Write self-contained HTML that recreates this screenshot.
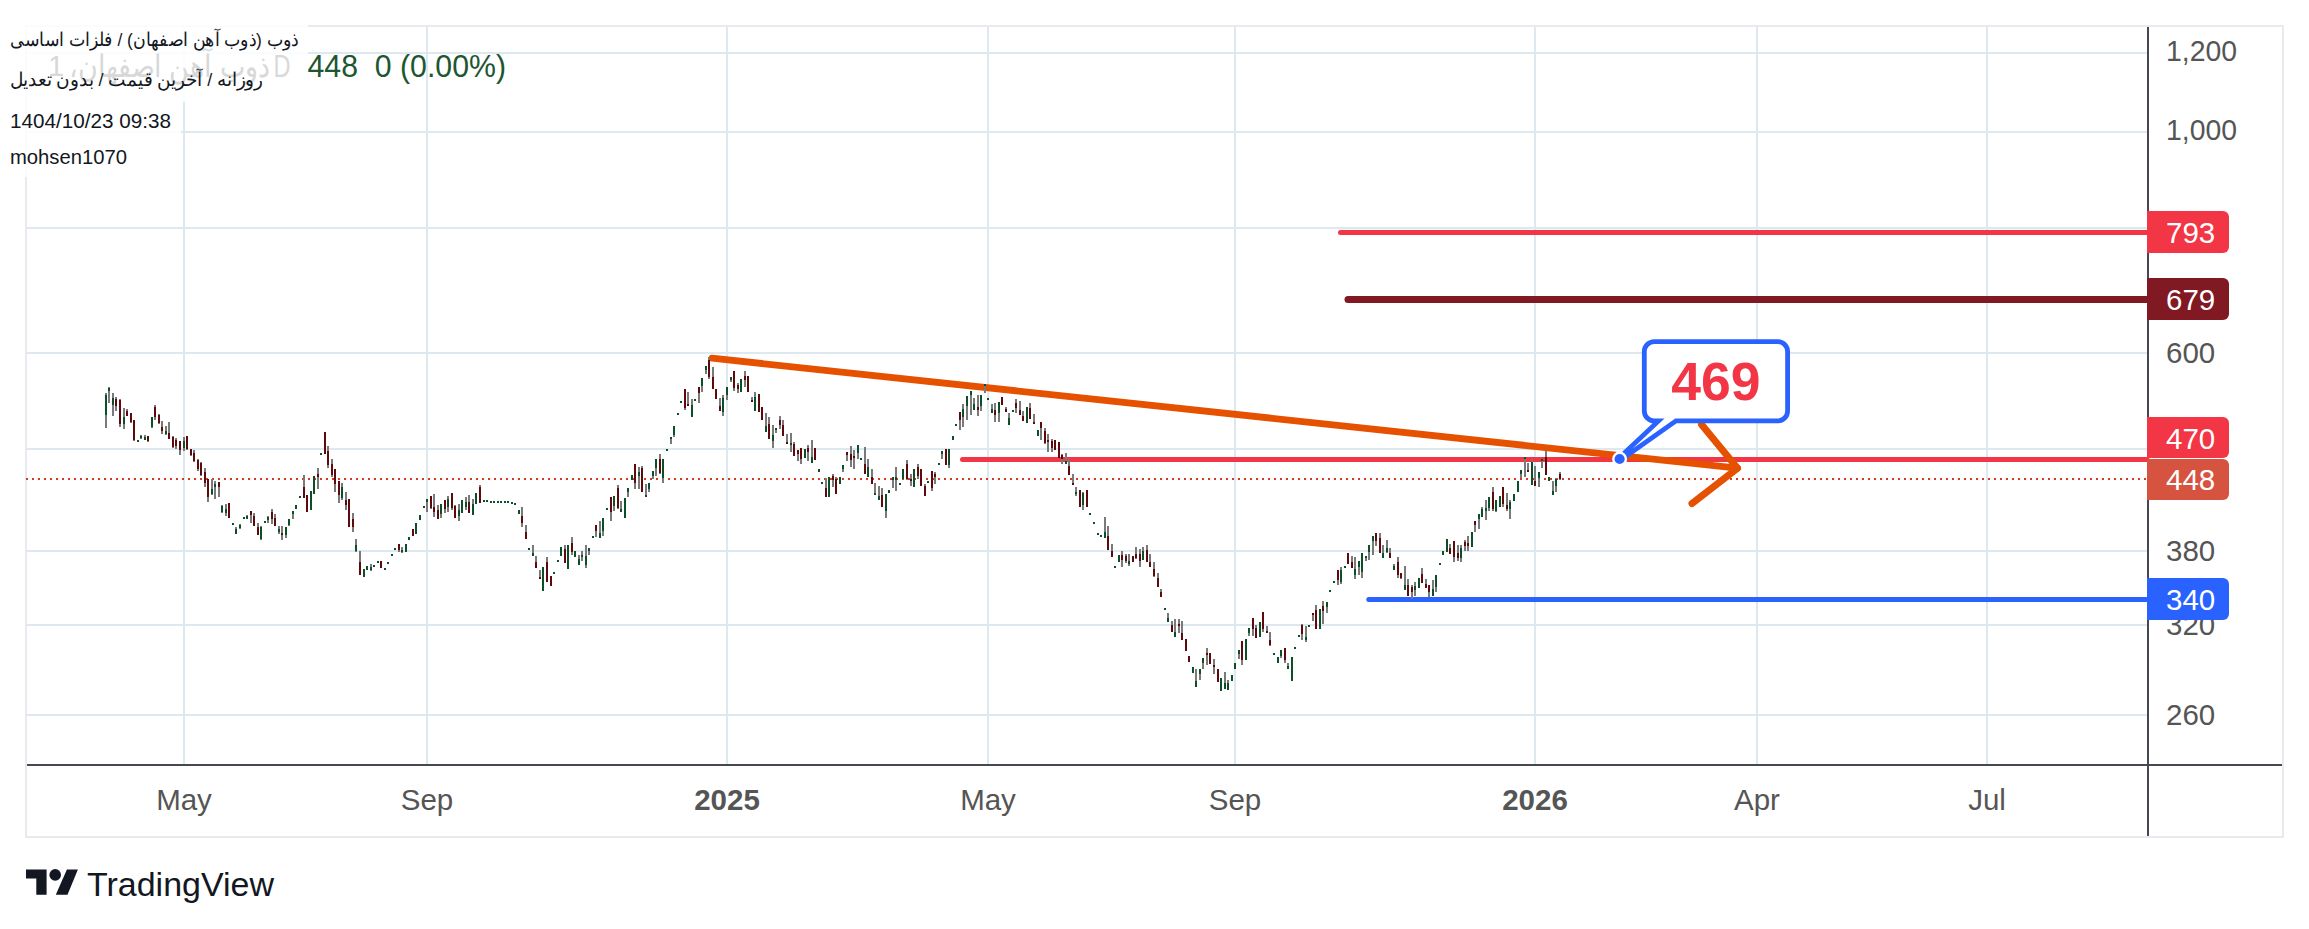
<!DOCTYPE html>
<html><head><meta charset="utf-8"><style>
html,body{margin:0;padding:0;background:#fff;width:2309px;height:929px;overflow:hidden}
svg{display:block}
</style></head><body>
<svg width="2309" height="929" viewBox="0 0 2309 929">
<rect x="183" y="27" width="2" height="737" fill="#DDE8EF"/>
<rect x="426" y="27" width="2" height="737" fill="#DDE8EF"/>
<rect x="726" y="27" width="2" height="737" fill="#DDE8EF"/>
<rect x="987" y="27" width="2" height="737" fill="#DDE8EF"/>
<rect x="1234" y="27" width="2" height="737" fill="#DDE8EF"/>
<rect x="1534" y="27" width="2" height="737" fill="#DDE8EF"/>
<rect x="1756" y="27" width="2" height="737" fill="#DDE8EF"/>
<rect x="1986" y="27" width="2" height="737" fill="#DDE8EF"/>
<rect x="27" y="52" width="2120" height="2" fill="#DDE8EF"/>
<rect x="27" y="131" width="2120" height="2" fill="#DDE8EF"/>
<rect x="27" y="227" width="2120" height="2" fill="#DDE8EF"/>
<rect x="27" y="352" width="2120" height="2" fill="#DDE8EF"/>
<rect x="27" y="448" width="2120" height="2" fill="#DDE8EF"/>
<rect x="27" y="550" width="2120" height="2" fill="#DDE8EF"/>
<rect x="27" y="624" width="2120" height="2" fill="#DDE8EF"/>
<rect x="27" y="714" width="2120" height="2" fill="#DDE8EF"/>
<rect x="25" y="25" width="2259" height="2" fill="#E8EAEF"/>
<rect x="25" y="836" width="2259" height="2" fill="#E8EAEF"/>
<rect x="25" y="25" width="2" height="813" fill="#E8EAEF"/>
<rect x="2282" y="25" width="2" height="813" fill="#E8EAEF"/>
<rect x="2147" y="27" width="2" height="809" fill="#464850"/>
<rect x="27" y="764" width="2255" height="2" fill="#464850"/>
<rect x="0" y="22" width="308" height="80" fill="#fff" fill-opacity="0.85"/>
<rect x="0" y="102" width="181" height="38" fill="#fff" fill-opacity="0.85"/>
<rect x="0" y="140" width="140" height="37" fill="#fff" fill-opacity="0.85"/>
<line x1="26" y1="479" x2="2147" y2="479" stroke="#D63A1E" stroke-width="2" stroke-dasharray="2 4"/>
<line x1="1340.5" y1="232.5" x2="2147" y2="232.5" stroke="#F23645" stroke-width="5" stroke-linecap="round"/>
<line x1="1348" y1="299.4" x2="2147" y2="299.4" stroke="#801922" stroke-width="7" stroke-linecap="round"/>
<line x1="962.5" y1="459.5" x2="2147" y2="459.5" stroke="#F23645" stroke-width="5" stroke-linecap="round"/>
<line x1="1368.8" y1="599.4" x2="2147" y2="599.4" stroke="#2962FF" stroke-width="5" stroke-linecap="round"/>
<line x1="712" y1="358.2" x2="1737.5" y2="468.2" stroke="#E65100" stroke-width="6.8" stroke-linecap="round"/>
<polyline points="1701.5,424.5 1737.5,468.2 1692,503.5" fill="none" stroke="#E65100" stroke-width="7" stroke-linecap="round" stroke-linejoin="round"/>
<path d="M1654.3 341.6H1777.6A10 10 0 0 1 1787.6 351.6V410.9A10 10 0 0 1 1777.6 420.9H1676L1620 458.5L1658.5 420.9H1654.3A10 10 0 0 1 1644.3 410.9V351.6A10 10 0 0 1 1654.3 341.6Z" fill="#fff"/>
<path d="M1618 459L1658.5 420.9H1654.3A10 10 0 0 1 1644.3 410.9V351.6A10 10 0 0 1 1654.3 341.6H1777.6A10 10 0 0 1 1787.6 351.6V410.9A10 10 0 0 1 1777.6 420.9H1676L1622 459" fill="none" stroke="#2962FF" stroke-width="4.8" stroke-linejoin="miter" stroke-miterlimit="10"/>
<circle cx="1619.6" cy="459" r="6.3" fill="#2962FF" stroke="#fff" stroke-width="2.4"/>
<text x="1716" y="400" text-anchor="middle" font-family="Liberation Sans" font-weight="bold" font-size="53.5" fill="#F23645">469</text>
<path d="M105 393h2v35h-2zM108 387h2v16h-2zM112 393h2v23h-2zM115 397h2v14h-2zM119 399h2v28h-2zM123 408h2v21h-2zM126 409h2v7h-2zM130 413h2v10h-2zM133 420h2v21h-2zM137 440h2v2h-2zM140 435h2v4h-2zM144 435h2v5h-2zM147 436h2v6h-2zM151 417h2v11h-2zM154 405h2v15h-2zM158 414h2v10h-2zM161 421h2v13h-2zM165 426h2v9h-2zM168 422h2v17h-2zM172 436h2v12h-2zM175 438h2v11h-2zM179 441h2v14h-2zM183 437h2v14h-2zM186 436h2v14h-2zM190 449h2v7h-2zM193 450h2v12h-2zM197 459h2v12h-2zM200 462h2v14h-2zM204 468h2v19h-2zM207 479h2v23h-2zM211 479h2v16h-2zM214 481h2v18h-2zM218 482h2v15h-2zM221 505h2v8h-2zM225 504h2v12h-2zM228 503h2v15h-2zM232 523h2v2h-2zM235 527h2v7h-2zM239 524h2v5h-2zM243 517h2v2h-2zM246 515h2v4h-2zM250 511h2v12h-2zM253 513h2v13h-2zM257 523h2v12h-2zM260 526h2v14h-2zM264 521h2v2h-2zM267 516h2v7h-2zM271 509h2v15h-2zM274 514h2v12h-2zM278 526h2v8h-2zM281 526h2v14h-2zM285 527h2v11h-2zM288 519h2v7h-2zM292 511h2v8h-2zM295 505h2v4h-2zM299 496h2v2h-2zM303 475h2v23h-2zM306 495h2v17h-2zM310 491h2v19h-2zM313 476h2v18h-2zM317 468h2v21h-2zM320 453h2v2h-2zM324 432h2v22h-2zM327 446h2v22h-2zM331 459h2v18h-2zM334 469h2v23h-2zM338 481h2v22h-2zM341 483h2v17h-2zM345 492h2v18h-2zM348 499h2v28h-2zM352 513h2v19h-2zM355 539h2v13h-2zM359 551h2v24h-2zM363 569h2v8h-2zM366 566h2v4h-2zM370 564h2v7h-2zM373 565h2v2h-2zM377 561h2v2h-2zM380 561h2v7h-2zM384 568h2v2h-2zM387 562h2v2h-2zM391 554h2v2h-2zM394 548h2v2h-2zM398 544h2v8h-2zM401 547h2v6h-2zM405 544h2v8h-2zM408 537h2v3h-2zM412 529h2v7h-2zM415 523h2v11h-2zM419 515h2v5h-2zM423 506h2v2h-2zM426 499h2v13h-2zM430 496h2v13h-2zM433 494h2v23h-2zM437 505h2v14h-2zM440 504h2v14h-2zM444 500h2v13h-2zM447 496h2v16h-2zM451 493h2v17h-2zM454 505h2v13h-2zM458 504h2v17h-2zM461 500h2v13h-2zM465 497h2v13h-2zM468 495h2v18h-2zM472 499h2v16h-2zM475 493h2v11h-2zM479 485h2v18h-2zM483 500h2v2h-2zM486 500h2v2h-2zM490 501h2v2h-2zM493 501h2v2h-2zM497 501h2v2h-2zM500 501h2v2h-2zM504 501h2v2h-2zM507 501h2v2h-2zM511 502h2v2h-2zM514 503h2v2h-2zM518 510h2v4h-2zM521 507h2v20h-2zM525 525h2v14h-2zM528 548h2v2h-2zM532 545h2v11h-2zM535 556h2v12h-2zM539 570h2v9h-2zM542 567h2v24h-2zM546 557h2v25h-2zM550 576h2v10h-2zM553 572h2v2h-2zM557 560h2v2h-2zM560 547h2v9h-2zM564 545h2v18h-2zM567 545h2v24h-2zM571 537h2v18h-2zM574 551h2v6h-2zM578 555h2v10h-2zM581 551h2v10h-2zM585 545h2v23h-2zM588 548h2v7h-2zM592 536h2v2h-2zM595 525h2v12h-2zM599 521h2v17h-2zM602 518h2v18h-2zM606 508h2v2h-2zM610 497h2v24h-2zM613 496h2v15h-2zM617 485h2v24h-2zM620 501h2v11h-2zM624 498h2v20h-2zM627 488h2v9h-2zM631 475h2v5h-2zM634 464h2v25h-2zM638 467h2v22h-2zM641 466h2v26h-2zM645 484h2v13h-2zM648 483h2v9h-2zM652 471h2v8h-2zM655 459h2v17h-2zM659 454h2v20h-2zM662 459h2v24h-2zM666 449h2v2h-2zM670 437h2v7h-2zM673 426h2v11h-2zM677 413h2v2h-2zM680 401h2v2h-2zM684 389h2v21h-2zM687 392h2v14h-2zM691 399h2v18h-2zM694 399h2v2h-2zM698 387h2v16h-2zM701 378h2v14h-2zM705 366h2v8h-2zM708 357h2v22h-2zM712 367h2v22h-2zM715 389h2v10h-2zM719 398h2v13h-2zM722 395h2v21h-2zM726 387h2v13h-2zM730 377h2v5h-2zM733 371h2v20h-2zM737 383h2v10h-2zM740 379h2v13h-2zM744 371h2v16h-2zM747 376h2v16h-2zM751 397h2v5h-2zM754 392h2v19h-2zM758 394h2v18h-2zM761 407h2v13h-2zM765 413h2v19h-2zM768 417h2v22h-2zM772 425h2v23h-2zM775 428h2v5h-2zM779 416h2v13h-2zM782 420h2v16h-2zM786 434h2v10h-2zM790 433h2v19h-2zM793 442h2v14h-2zM797 450h2v11h-2zM800 448h2v16h-2zM804 449h2v9h-2zM807 445h2v16h-2zM811 440h2v23h-2zM814 448h2v12h-2zM818 469h2v3h-2zM821 482h2v2h-2zM825 478h2v19h-2zM828 477h2v20h-2zM832 474h2v13h-2zM835 477h2v17h-2zM839 477h2v7h-2zM842 465h2v7h-2zM846 452h2v9h-2zM850 446h2v21h-2zM853 450h2v19h-2zM857 445h2v14h-2zM860 458h2v2h-2zM864 447h2v27h-2zM867 459h2v18h-2zM871 469h2v15h-2zM874 483h2v12h-2zM878 486h2v14h-2zM881 488h2v19h-2zM885 494h2v24h-2zM888 490h2v3h-2zM892 477h2v11h-2zM895 467h2v24h-2zM899 483h2v2h-2zM902 469h2v10h-2zM906 460h2v20h-2zM910 474h2v12h-2zM913 469h2v18h-2zM917 464h2v15h-2zM920 469h2v17h-2zM924 484h2v12h-2zM927 481h2v2h-2zM931 471h2v20h-2zM934 472h2v12h-2zM938 463h2v2h-2zM941 451h2v8h-2zM945 449h2v16h-2zM948 449h2v19h-2zM952 436h2v4h-2zM955 424h2v2h-2zM959 412h2v18h-2zM962 404h2v23h-2zM966 396h2v24h-2zM970 391h2v24h-2zM973 398h2v12h-2zM977 395h2v21h-2zM980 395h2v16h-2zM984 384h2v9h-2zM987 398h2v2h-2zM991 404h2v9h-2zM994 403h2v19h-2zM998 402h2v20h-2zM1001 397h2v8h-2zM1005 407h2v5h-2zM1008 413h2v12h-2zM1012 410h2v2h-2zM1015 399h2v14h-2zM1019 401h2v14h-2zM1022 411h2v10h-2zM1026 407h2v16h-2zM1029 403h2v16h-2zM1033 414h2v10h-2zM1037 430h2v6h-2zM1040 422h2v18h-2zM1044 428h2v16h-2zM1047 434h2v18h-2zM1051 439h2v13h-2zM1054 440h2v10h-2zM1058 442h2v16h-2zM1061 454h2v10h-2zM1065 453h2v11h-2zM1068 459h2v16h-2zM1072 474h2v11h-2zM1075 487h2v9h-2zM1079 490h2v17h-2zM1082 492h2v18h-2zM1086 490h2v17h-2zM1089 513h2v2h-2zM1093 522h2v2h-2zM1097 533h2v2h-2zM1100 535h2v2h-2zM1104 517h2v21h-2zM1107 526h2v24h-2zM1111 544h2v13h-2zM1114 566h2v2h-2zM1118 555h2v7h-2zM1121 551h2v16h-2zM1125 554h2v9h-2zM1128 554h2v12h-2zM1132 556h2v6h-2zM1135 547h2v12h-2zM1139 549h2v18h-2zM1142 547h2v13h-2zM1146 545h2v17h-2zM1149 554h2v13h-2zM1153 562h2v15h-2zM1157 573h2v14h-2zM1160 589h2v8h-2zM1164 608h2v2h-2zM1167 613h2v9h-2zM1171 621h2v11h-2zM1174 619h2v18h-2zM1178 619h2v14h-2zM1181 621h2v19h-2zM1185 639h2v12h-2zM1188 656h2v6h-2zM1192 667h2v6h-2zM1195 669h2v18h-2zM1199 669h2v11h-2zM1202 658h2v11h-2zM1206 648h2v17h-2zM1209 653h2v11h-2zM1213 659h2v15h-2zM1217 669h2v13h-2zM1220 678h2v13h-2zM1224 672h2v17h-2zM1227 680h2v10h-2zM1231 675h2v6h-2zM1234 663h2v6h-2zM1238 650h2v9h-2zM1241 641h2v24h-2zM1245 639h2v21h-2zM1248 628h2v8h-2zM1252 618h2v18h-2zM1255 625h2v13h-2zM1259 622h2v15h-2zM1262 612h2v20h-2zM1266 626h2v7h-2zM1269 632h2v14h-2zM1273 653h2v2h-2zM1277 657h2v6h-2zM1280 650h2v8h-2zM1284 648h2v15h-2zM1287 663h2v6h-2zM1291 657h2v24h-2zM1294 647h2v2h-2zM1298 635h2v2h-2zM1301 624h2v16h-2zM1305 626h2v16h-2zM1308 625h2v2h-2zM1312 613h2v8h-2zM1315 605h2v24h-2zM1319 609h2v20h-2zM1322 601h2v23h-2zM1326 602h2v11h-2zM1329 590h2v2h-2zM1333 581h2v2h-2zM1337 570h2v15h-2zM1340 567h2v17h-2zM1344 566h2v2h-2zM1347 553h2v11h-2zM1351 556h2v12h-2zM1354 557h2v22h-2zM1358 561h2v14h-2zM1361 553h2v25h-2zM1365 556h2v5h-2zM1368 545h2v15h-2zM1372 536h2v19h-2zM1375 533h2v13h-2zM1379 533h2v20h-2zM1382 545h2v13h-2zM1386 540h2v13h-2zM1389 548h2v10h-2zM1393 564h2v6h-2zM1397 557h2v21h-2zM1400 573h2v6h-2zM1404 566h2v24h-2zM1407 579h2v17h-2zM1411 585h2v14h-2zM1414 582h2v14h-2zM1418 578h2v10h-2zM1421 568h2v15h-2zM1425 579h2v9h-2zM1428 585h2v12h-2zM1432 580h2v16h-2zM1435 575h2v17h-2zM1439 563h2v2h-2zM1442 551h2v4h-2zM1446 539h2v13h-2zM1449 544h2v10h-2zM1453 541h2v21h-2zM1457 545h2v16h-2zM1460 545h2v17h-2zM1464 540h2v11h-2zM1467 536h2v15h-2zM1471 532h2v15h-2zM1474 521h2v11h-2zM1478 514h2v15h-2zM1481 507h2v10h-2zM1485 500h2v20h-2zM1488 497h2v14h-2zM1492 487h2v24h-2zM1495 500h2v12h-2zM1499 496h2v11h-2zM1502 487h2v20h-2zM1506 493h2v18h-2zM1509 500h2v19h-2zM1513 494h2v7h-2zM1517 481h2v11h-2zM1520 470h2v8h-2zM1524 457h2v20h-2zM1527 463h2v9h-2zM1531 459h2v26h-2zM1534 466h2v20h-2zM1538 472h2v15h-2zM1541 459h2v9h-2zM1545 451h2v24h-2zM1548 477h2v4h-2zM1552 481h2v14h-2zM1555 478h2v14h-2zM1559 472h2v8h-2z" fill="#7A7A7A"/>
<path d="M105 395h2v20h-2zM108 388h2v3h-2zM112 398h2v7h-2zM123 417h2v7h-2zM137 440h2v2h-2zM140 436h2v2h-2zM144 437h2v3h-2zM151 417h2v10h-2zM165 431h2v3h-2zM183 441h2v7h-2zM211 489h2v5h-2zM214 484h2v3h-2zM221 506h2v6h-2zM225 509h2v4h-2zM232 523h2v2h-2zM235 529h2v5h-2zM239 525h2v3h-2zM243 517h2v2h-2zM246 516h2v3h-2zM260 527h2v12h-2zM264 521h2v2h-2zM267 517h2v3h-2zM278 529h2v3h-2zM285 527h2v8h-2zM288 519h2v6h-2zM292 511h2v3h-2zM295 505h2v4h-2zM299 496h2v2h-2zM310 491h2v19h-2zM313 476h2v18h-2zM320 453h2v2h-2zM341 487h2v11h-2zM355 545h2v6h-2zM363 569h2v8h-2zM366 566h2v4h-2zM370 567h2v3h-2zM373 565h2v2h-2zM377 561h2v2h-2zM384 568h2v2h-2zM387 562h2v2h-2zM391 554h2v2h-2zM394 548h2v2h-2zM401 550h2v2h-2zM405 544h2v8h-2zM408 537h2v3h-2zM415 523h2v11h-2zM419 515h2v5h-2zM423 506h2v2h-2zM426 499h2v3h-2zM440 504h2v10h-2zM447 499h2v8h-2zM458 510h2v6h-2zM461 500h2v13h-2zM465 502h2v5h-2zM472 504h2v11h-2zM475 493h2v11h-2zM483 500h2v2h-2zM486 500h2v2h-2zM490 501h2v2h-2zM493 501h2v2h-2zM497 501h2v2h-2zM500 501h2v2h-2zM504 501h2v2h-2zM507 501h2v2h-2zM511 502h2v2h-2zM514 503h2v2h-2zM518 510h2v4h-2zM528 548h2v2h-2zM532 553h2v3h-2zM542 567h2v24h-2zM553 572h2v2h-2zM557 560h2v2h-2zM560 547h2v9h-2zM567 545h2v24h-2zM574 551h2v6h-2zM578 559h2v6h-2zM581 555h2v2h-2zM585 556h2v9h-2zM588 548h2v3h-2zM592 536h2v2h-2zM599 533h2v5h-2zM602 518h2v13h-2zM606 508h2v2h-2zM613 496h2v10h-2zM620 509h2v3h-2zM624 498h2v20h-2zM627 488h2v4h-2zM631 475h2v5h-2zM638 472h2v4h-2zM645 495h2v2h-2zM648 483h2v6h-2zM652 471h2v5h-2zM655 459h2v9h-2zM662 459h2v19h-2zM666 449h2v2h-2zM670 437h2v2h-2zM673 426h2v9h-2zM677 413h2v2h-2zM680 401h2v2h-2zM691 405h2v12h-2zM694 399h2v2h-2zM701 378h2v8h-2zM705 366h2v4h-2zM722 398h2v14h-2zM726 387h2v8h-2zM730 377h2v3h-2zM740 379h2v13h-2zM754 397h2v14h-2zM765 426h2v6h-2zM772 435h2v6h-2zM775 428h2v2h-2zM790 443h2v2h-2zM804 449h2v9h-2zM811 457h2v6h-2zM818 469h2v3h-2zM821 482h2v2h-2zM828 477h2v20h-2zM839 477h2v7h-2zM842 465h2v4h-2zM857 445h2v8h-2zM860 458h2v2h-2zM867 467h2v10h-2zM874 493h2v2h-2zM878 496h2v4h-2zM885 494h2v17h-2zM888 490h2v3h-2zM892 477h2v3h-2zM895 477h2v3h-2zM899 483h2v2h-2zM902 469h2v10h-2zM913 469h2v18h-2zM927 481h2v2h-2zM938 463h2v2h-2zM941 451h2v3h-2zM948 449h2v16h-2zM952 436h2v4h-2zM955 424h2v2h-2zM962 409h2v8h-2zM966 396h2v10h-2zM970 391h2v4h-2zM973 404h2v6h-2zM980 395h2v11h-2zM984 384h2v2h-2zM987 398h2v2h-2zM991 409h2v4h-2zM998 402h2v11h-2zM1008 418h2v7h-2zM1012 410h2v2h-2zM1026 407h2v16h-2zM1037 430h2v6h-2zM1065 461h2v3h-2zM1075 492h2v2h-2zM1082 493h2v12h-2zM1089 513h2v2h-2zM1093 522h2v2h-2zM1097 533h2v2h-2zM1100 535h2v2h-2zM1104 532h2v6h-2zM1114 566h2v2h-2zM1118 555h2v7h-2zM1128 561h2v3h-2zM1142 551h2v9h-2zM1164 608h2v2h-2zM1167 618h2v4h-2zM1174 632h2v5h-2zM1192 667h2v6h-2zM1195 681h2v6h-2zM1199 669h2v5h-2zM1202 658h2v5h-2zM1220 678h2v13h-2zM1224 683h2v6h-2zM1227 683h2v7h-2zM1231 675h2v6h-2zM1234 663h2v6h-2zM1238 650h2v4h-2zM1245 639h2v21h-2zM1248 628h2v5h-2zM1259 622h2v15h-2zM1273 653h2v2h-2zM1277 657h2v6h-2zM1280 650h2v6h-2zM1287 666h2v3h-2zM1291 657h2v24h-2zM1294 647h2v2h-2zM1298 635h2v2h-2zM1305 637h2v3h-2zM1308 625h2v2h-2zM1319 609h2v20h-2zM1326 602h2v5h-2zM1329 590h2v2h-2zM1333 581h2v2h-2zM1340 570h2v12h-2zM1344 566h2v2h-2zM1354 569h2v6h-2zM1358 561h2v6h-2zM1361 553h2v19h-2zM1365 556h2v2h-2zM1368 545h2v7h-2zM1372 536h2v5h-2zM1382 553h2v5h-2zM1386 548h2v4h-2zM1393 566h2v4h-2zM1404 585h2v5h-2zM1414 586h2v4h-2zM1418 578h2v10h-2zM1432 589h2v7h-2zM1435 575h2v12h-2zM1439 563h2v2h-2zM1442 551h2v4h-2zM1446 539h2v13h-2zM1460 548h2v10h-2zM1471 532h2v15h-2zM1478 514h2v5h-2zM1481 509h2v8h-2zM1485 508h2v3h-2zM1488 497h2v11h-2zM1495 500h2v11h-2zM1499 496h2v11h-2zM1509 502h2v7h-2zM1513 494h2v7h-2zM1517 481h2v11h-2zM1520 470h2v4h-2zM1524 457h2v2h-2zM1531 462h2v23h-2zM1538 472h2v6h-2zM1541 459h2v2h-2zM1548 477h2v4h-2zM1552 491h2v4h-2zM1555 479h2v7h-2z" fill="#0A4F27"/>
<path d="M115 399h2v7h-2zM119 400h2v24h-2zM126 411h2v5h-2zM130 413h2v9h-2zM133 420h2v20h-2zM147 436h2v5h-2zM154 407h2v10h-2zM158 415h2v8h-2zM161 427h2v4h-2zM168 433h2v6h-2zM172 437h2v10h-2zM175 440h2v6h-2zM179 441h2v9h-2zM186 436h2v13h-2zM190 449h2v6h-2zM193 453h2v8h-2zM197 460h2v9h-2zM200 463h2v12h-2zM204 472h2v11h-2zM207 479h2v18h-2zM218 482h2v5h-2zM228 503h2v15h-2zM250 511h2v4h-2zM253 516h2v10h-2zM257 527h2v8h-2zM271 512h2v7h-2zM274 518h2v8h-2zM281 533h2v2h-2zM303 487h2v11h-2zM306 495h2v17h-2zM317 474h2v3h-2zM324 432h2v22h-2zM327 451h2v14h-2zM331 464h2v11h-2zM334 469h2v15h-2zM338 481h2v14h-2zM345 500h2v5h-2zM348 499h2v28h-2zM352 519h2v8h-2zM359 562h2v13h-2zM380 561h2v7h-2zM398 544h2v6h-2zM412 529h2v7h-2zM430 496h2v12h-2zM433 507h2v5h-2zM437 510h2v9h-2zM444 500h2v9h-2zM451 493h2v15h-2zM454 506h2v12h-2zM468 502h2v11h-2zM479 487h2v16h-2zM521 516h2v7h-2zM525 532h2v7h-2zM535 562h2v6h-2zM539 577h2v2h-2zM546 562h2v20h-2zM550 576h2v10h-2zM564 549h2v14h-2zM571 543h2v9h-2zM595 525h2v6h-2zM610 497h2v15h-2zM617 488h2v20h-2zM634 464h2v19h-2zM641 468h2v24h-2zM659 459h2v14h-2zM684 389h2v19h-2zM687 404h2v2h-2zM698 387h2v6h-2zM708 360h2v17h-2zM712 377h2v12h-2zM715 389h2v10h-2zM719 406h2v5h-2zM733 371h2v17h-2zM737 385h2v4h-2zM744 376h2v4h-2zM747 376h2v16h-2zM751 400h2v2h-2zM758 394h2v18h-2zM761 407h2v13h-2zM768 424h2v15h-2zM779 420h2v5h-2zM782 425h2v11h-2zM786 442h2v2h-2zM793 444h2v12h-2zM797 450h2v4h-2zM800 448h2v11h-2zM807 448h2v4h-2zM814 448h2v12h-2zM825 488h2v9h-2zM832 476h2v4h-2zM835 479h2v15h-2zM846 452h2v3h-2zM850 454h2v6h-2zM853 456h2v2h-2zM864 464h2v10h-2zM871 477h2v7h-2zM881 495h2v12h-2zM906 464h2v15h-2zM910 479h2v2h-2zM917 467h2v9h-2zM920 469h2v17h-2zM924 486h2v10h-2zM931 471h2v17h-2zM934 474h2v3h-2zM945 449h2v16h-2zM959 412h2v8h-2zM977 407h2v3h-2zM994 410h2v5h-2zM1001 397h2v8h-2zM1005 409h2v3h-2zM1015 403h2v5h-2zM1019 410h2v5h-2zM1022 416h2v5h-2zM1029 408h2v11h-2zM1033 422h2v2h-2zM1040 422h2v6h-2zM1044 431h2v12h-2zM1047 440h2v2h-2zM1051 441h2v7h-2zM1054 440h2v10h-2zM1058 442h2v16h-2zM1061 455h2v4h-2zM1068 466h2v9h-2zM1072 483h2v2h-2zM1079 490h2v17h-2zM1086 490h2v17h-2zM1107 536h2v14h-2zM1111 551h2v6h-2zM1121 555h2v5h-2zM1125 556h2v5h-2zM1132 556h2v6h-2zM1135 554h2v4h-2zM1139 554h2v7h-2zM1146 550h2v12h-2zM1149 562h2v5h-2zM1153 569h2v7h-2zM1157 578h2v9h-2zM1160 592h2v5h-2zM1171 625h2v7h-2zM1178 624h2v2h-2zM1181 633h2v7h-2zM1185 639h2v12h-2zM1188 656h2v6h-2zM1206 653h2v2h-2zM1209 653h2v11h-2zM1213 665h2v2h-2zM1217 669h2v13h-2zM1241 641h2v19h-2zM1252 618h2v11h-2zM1255 628h2v10h-2zM1262 612h2v17h-2zM1266 631h2v2h-2zM1269 640h2v5h-2zM1284 648h2v12h-2zM1301 625h2v9h-2zM1312 613h2v2h-2zM1315 610h2v19h-2zM1322 606h2v5h-2zM1337 570h2v10h-2zM1347 553h2v11h-2zM1351 562h2v6h-2zM1375 533h2v8h-2zM1379 538h2v15h-2zM1389 553h2v5h-2zM1397 562h2v13h-2zM1400 573h2v5h-2zM1407 585h2v11h-2zM1411 587h2v5h-2zM1421 574h2v9h-2zM1425 584h2v4h-2zM1428 585h2v7h-2zM1449 548h2v6h-2zM1453 541h2v16h-2zM1457 553h2v5h-2zM1464 542h2v4h-2zM1467 543h2v3h-2zM1474 521h2v4h-2zM1492 492h2v17h-2zM1502 487h2v17h-2zM1506 505h2v4h-2zM1527 470h2v2h-2zM1534 481h2v5h-2zM1545 457h2v18h-2zM1559 474h2v5h-2z" fill="#5E0A0C"/>
<text x="2166" y="61" font-family="Liberation Sans" font-size="29.5" fill="#555555" textLength="71" lengthAdjust="spacingAndGlyphs">1,200</text>
<text x="2166" y="140" font-family="Liberation Sans" font-size="29.5" fill="#555555" textLength="71" lengthAdjust="spacingAndGlyphs">1,000</text>
<text x="2166" y="363" font-family="Liberation Sans" font-size="29.5" fill="#555555">600</text>
<text x="2166" y="561" font-family="Liberation Sans" font-size="29.5" fill="#555555">380</text>
<text x="2166" y="635" font-family="Liberation Sans" font-size="29.5" fill="#555555">320</text>
<text x="2166" y="725" font-family="Liberation Sans" font-size="29.5" fill="#555555">260</text>
<path d="M2147 211h76a6 6 0 0 1 6 6v30a6 6 0 0 1 -6 6h-76z" fill="#F23645"/>
<text x="2166" y="243" font-family="Liberation Sans" font-size="29.5" fill="#fff">793</text>
<path d="M2147 278h76a6 6 0 0 1 6 6v30a6 6 0 0 1 -6 6h-76z" fill="#801922"/>
<text x="2166" y="310" font-family="Liberation Sans" font-size="29.5" fill="#fff">679</text>
<path d="M2147 417h76a6 6 0 0 1 6 6v29a6 6 0 0 1 -6 6h-76z" fill="#F23645"/>
<text x="2166" y="449" font-family="Liberation Sans" font-size="29.5" fill="#fff">470</text>
<path d="M2147 459h76a6 6 0 0 1 6 6v29a6 6 0 0 1 -6 6h-76z" fill="#D65340"/>
<text x="2166" y="490" font-family="Liberation Sans" font-size="29.5" fill="#fff">448</text>
<path d="M2147 578h76a6 6 0 0 1 6 6v30a6 6 0 0 1 -6 6h-76z" fill="#2962FF"/>
<text x="2166" y="610" font-family="Liberation Sans" font-size="29.5" fill="#fff">340</text>
<text x="184" y="810" text-anchor="middle" font-family="Liberation Sans" font-size="29.5" fill="#555555">May</text>
<text x="427" y="810" text-anchor="middle" font-family="Liberation Sans" font-size="29.5" fill="#555555">Sep</text>
<text x="727" y="810" text-anchor="middle" font-family="Liberation Sans" font-weight="bold" font-size="29.5" fill="#555555">2025</text>
<text x="988" y="810" text-anchor="middle" font-family="Liberation Sans" font-size="29.5" fill="#555555">May</text>
<text x="1235" y="810" text-anchor="middle" font-family="Liberation Sans" font-size="29.5" fill="#555555">Sep</text>
<text x="1535" y="810" text-anchor="middle" font-family="Liberation Sans" font-weight="bold" font-size="29.5" fill="#555555">2026</text>
<text x="1757" y="810" text-anchor="middle" font-family="Liberation Sans" font-size="29.5" fill="#555555">Apr</text>
<text x="1987" y="810" text-anchor="middle" font-family="Liberation Sans" font-size="29.5" fill="#555555">Jul</text>
<text x="298.5" y="45.5" text-anchor="start" font-family="Liberation Sans" font-size="19" fill="#131722" direction="rtl" textLength="288.5" lengthAdjust="spacingAndGlyphs">ذوب (ذوب آهن اصفهان) / فلزات اساسی</text>
<text x="48" y="76" font-family="Liberation Sans" font-size="29" fill="#D8D8D8">1</text>
<text x="270" y="77" text-anchor="start" font-family="Liberation Sans" font-size="31" fill="#D8D8D8" direction="rtl" textLength="201" lengthAdjust="spacingAndGlyphs">ذوب آهن اصفهان،</text>
<text x="273.5" y="76.6" font-family="Liberation Sans" font-size="31" fill="#D8D8D8" textLength="17" lengthAdjust="spacingAndGlyphs">D</text>
<text x="263" y="85.5" text-anchor="start" font-family="Liberation Sans" font-size="18.5" fill="#131722" direction="rtl" textLength="253.5" lengthAdjust="spacingAndGlyphs">روزانه / آخرین قیمت / بدون تعدیل</text>
<text x="307.5" y="77" font-family="Liberation Sans" font-size="32" fill="#1E5631" xml:space="preserve" textLength="198.5" lengthAdjust="spacingAndGlyphs">448  0 (0.00%)</text>
<text x="10" y="128" font-family="Liberation Sans" font-size="20.5" fill="#131722" textLength="161" lengthAdjust="spacingAndGlyphs">1404/10/23 09:38</text>
<text x="10" y="164" font-family="Liberation Sans" font-size="20.5" fill="#131722" textLength="117" lengthAdjust="spacingAndGlyphs">mohsen1070</text>
<path d="M26 869.4h20.6v25.3h-10.3v-16.3h-10.3z" fill="#131722"/>
<circle cx="55.2" cy="874.9" r="5.8" fill="#131722"/>
<path d="M66.9 869.4h11l-10.4 25.3h-11.7z" fill="#131722"/>
<text x="87" y="896" font-family="Liberation Sans" font-size="33" fill="#131722" textLength="187" lengthAdjust="spacingAndGlyphs">TradingView</text>
</svg>
</body></html>
